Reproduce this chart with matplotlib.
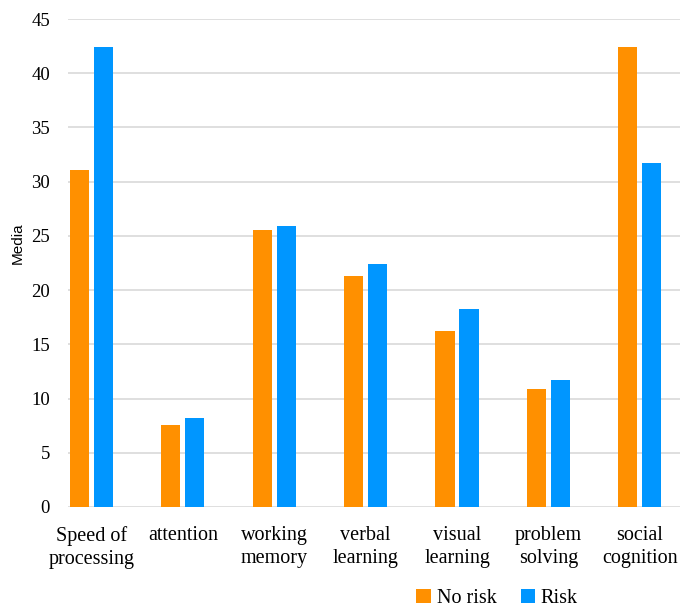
import numpy as np
import matplotlib.pyplot as plt

categories = ["Speed of\nprocessing", "attention", "working\nmemory", "verbal\nlearning",
              "visual\nlearning", "problem\nsolving", "social\ncognition"]
no_risk = [31.1, 7.6, 25.5, 21.3, 16.2, 10.9, 42.4]
risk = [42.4, 8.2, 25.9, 22.4, 18.3, 11.7, 31.7]

orange = "#FF9000"
blue = "#0096FF"

fig = plt.figure(figsize=(6.8, 6.09), dpi=100)
ax = fig.add_axes([0.1, 0.1675, 0.9, 0.8013])

x = np.arange(len(categories))
w = 0.21
ax.bar(x - 0.131, no_risk, w, color=orange, label="No risk", zorder=3)
ax.bar(x + 0.131, risk, w, color=blue, label="Risk", zorder=3)

ax.set_ylim(0, 45)
ax.set_xlim(-0.257, 6.44)
ax.set_yticks(np.arange(0, 46, 5))
ax.set_xticks(x)
ax.set_xticklabels(categories, fontsize=14.5, family="Liberation Serif", linespacing=1.25)
for lab in ax.get_yticklabels():
    lab.set_fontsize(13.5)
    lab.set_family("Liberation Serif")
ax.tick_params(axis="x", length=0, pad=14)
ax.tick_params(axis="y", length=0, pad=13)
ax.grid(axis="y", color="#D9D9D9", linewidth=1.2, zorder=0)
for s in ax.spines.values():
    s.set_visible(False)

fig.text(18 / 680, 1 - 243 / 609, "Media", rotation=90, ha="center", va="center",
         fontsize=11, family="Liberation Sans")

fig.legend(loc="center", bbox_to_anchor=(0.731, 0.017), ncol=2, frameon=False,
           prop={"family": "Liberation Serif", "size": 14.5}, handlelength=0.7, handleheight=0.7,
           handletextpad=0.3, columnspacing=1.2)

fig.savefig("out.png", dpi=100)
